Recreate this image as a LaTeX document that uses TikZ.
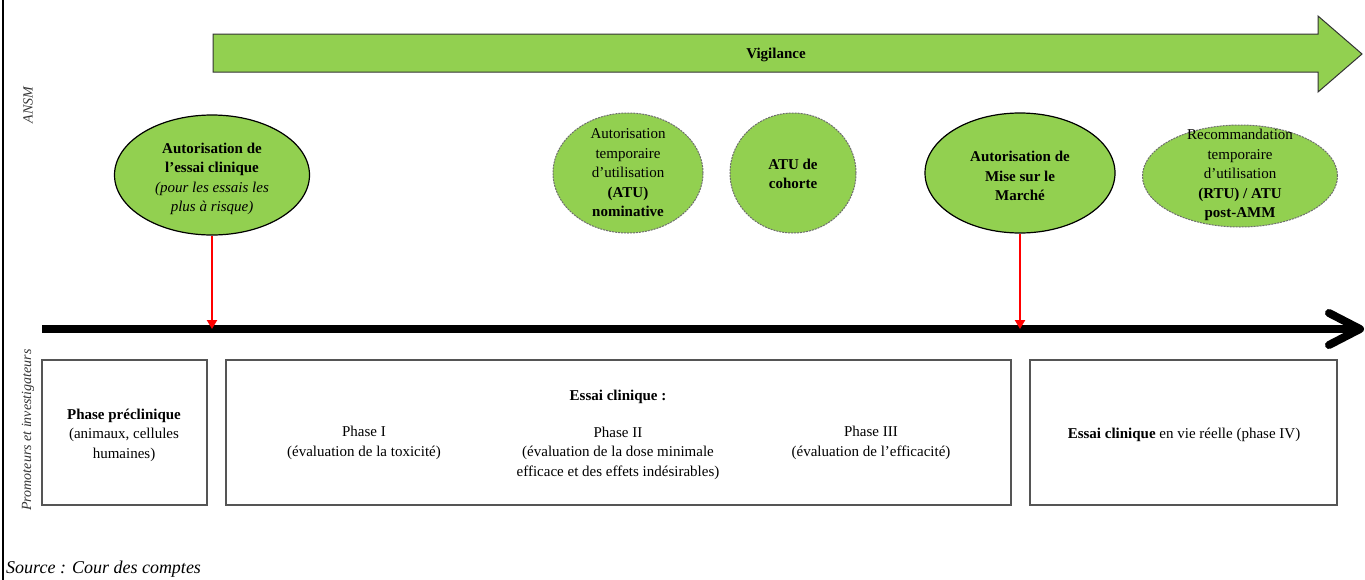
\documentclass[tikz,border=0pt]{standalone}
\usepackage{fontspec}
\setmainfont{Liberation Serif}
\usetikzlibrary{shapes.geometric,arrows.meta}
\definecolor{lgreen}{HTML}{92D050}
\definecolor{boxgray}{HTML}{555555}
\definecolor{dashgray}{HTML}{6E6E6E}
\begin{document}
\begin{tikzpicture}[x=1pt,y=-1pt,
  txt/.style={align=center,inner sep=0pt,font=\fontsize{15}{19.5}\selectfont},
  solidell/.style={ellipse,draw=black,line width=1.2pt,fill=lgreen,inner sep=0pt},
  dashell/.style={ellipse,draw=dashgray,line width=1pt,dash pattern=on 2pt off 1pt,fill=lgreen,inner sep=0pt},
  phasebox/.style={draw=boxgray,line width=1.6pt,inner sep=0pt},
  redarrow/.style={red,line width=2.2pt,-{Triangle[length=9pt,width=10pt]}},
  sidelabel/.style={rotate=90,font=\fontsize{14}{16}\selectfont\itshape,text=black!80,inner sep=0pt}]
\useasboundingbox[fill=white] (0,0) rectangle (1365,579);
% left frame line
\draw[line width=2.5pt] (3,-2) -- (3,581);
% side labels
\node[sidelabel] (ansm) at (28,105) {ANSM};
\node[sidelabel] (promo) at (28,430) {Promoteurs et investigateurs};
% vigilance arrow
\draw[black!80,line width=1pt,fill=lgreen] (213,34) -- (1318,34) -- (1318,16) -- (1362,54) -- (1318,92) -- (1318,72) -- (213,72) -- cycle;
\node[font=\fontsize{15}{17}\selectfont\bfseries,inner sep=0pt] (vig) at (776,55) {Vigilance};
% ellipses
\node[solidell,minimum width=195pt,minimum height=120pt] (e1) at (212,175) {};
\node[txt] (t1) at (212,179) {\textbf{Autorisation de}\\\textbf{l’essai clinique}\\\textit{(pour les essais les}\\\textit{plus à risque)}};
\node[dashell,minimum width=150pt,minimum height=120pt] (e2) at (628,173) {};
\node[txt] (t2) at (628,173) {Autorisation\\temporaire\\d’utilisation\\\textbf{(ATU)}\\\textbf{nominative}};
\node[dashell,minimum width=126pt,minimum height=120pt] (e3) at (793,173) {};
\node[txt] (t3) at (793,174) {\textbf{ATU de}\\\textbf{cohorte}};
\node[solidell,minimum width=190pt,minimum height=120pt] (e4) at (1020,173) {};
\node[txt] (t4) at (1020,176) {\textbf{Autorisation de}\\\textbf{Mise sur le}\\\textbf{Marché}};
\node[dashell,minimum width=195pt,minimum height=102pt] (e5) at (1240,176) {};
\node[txt] (t5) at (1240,175) {Recommandation\\temporaire\\d’utilisation\\\textbf{(RTU) / ATU}\\\textbf{post-AMM}};
% timeline
\coordinate (tlstart) at (42,329);
\coordinate (tlend) at (1356,329);
\draw[line width=8pt] (tlstart) -- (tlend);
\draw[line width=8pt,line cap=round,line join=round] (1329,313) -- (1360,329) -- (1329,345);
% red arrows
\draw[redarrow] (e1.south) -- (e1.south |- tlstart);
\draw[redarrow] (e4.south) -- (e4.south |- tlstart);
% boxes
\draw[phasebox] (42,360) rectangle (207,505);
\draw[phasebox] (226,360) rectangle (1011,505);
\draw[phasebox] (1030,360) rectangle (1337,505);
\node[txt] (b1) at (124,435) {\textbf{Phase préclinique}\\(animaux, cellules\\humaines)};
\node[txt] (b2) at (618,397) {\textbf{Essai clinique :}};
\node[txt] (p1) at (364,443) {Phase I\\(évaluation de la toxicité)};
\node[txt] (p2) at (618,453) {Phase II\\(évaluation de la dose minimale\\efficace et des effets indésirables)};
\node[txt] (p3) at (871,443) {Phase III\\(évaluation de l’efficacité)};
\node[txt] (b3) at (1184,435) {\textbf{Essai clinique} en vie réelle (phase IV)};
% source
\node[anchor=base west,inner sep=0pt,font=\fontsize{18}{21}\selectfont\itshape] (src) at (6,573) {Source : Cour des comptes};
\end{tikzpicture}
\end{document}
